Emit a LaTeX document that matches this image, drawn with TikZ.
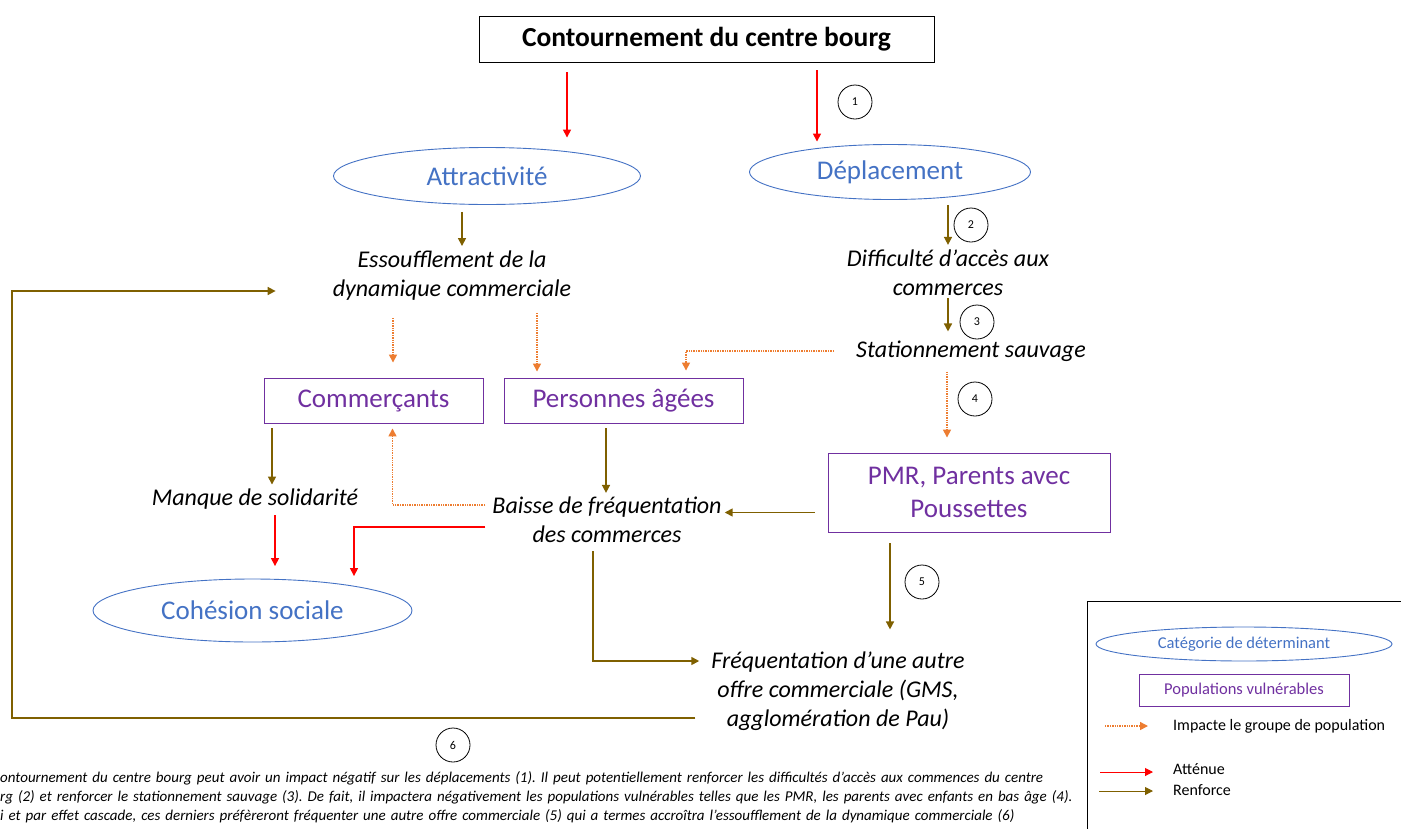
\documentclass[tikz,border=0pt]{standalone}
\usepackage{fontspec}
\setmainfont{Carlito}
\usetikzlibrary{arrows.meta, positioning, shapes.geometric}
\definecolor{detblue}{HTML}{4472C4}
\definecolor{popviolet}{HTML}{7030A0}
\definecolor{renfbrown}{HTML}{7F6000}
\definecolor{imporange}{HTML}{ED7D31}

\begin{document}
\begin{tikzpicture}[
			x=1pt, y=-1pt,
			>={Triangle[length=8pt, width=8pt]},
			titlebox/.style={rectangle, draw=black, line width=0.9pt, minimum width=455pt, minimum height=46pt, inner sep=0pt, font=\fontsize{27.5}{32}\selectfont\bfseries},
			determinant/.style={ellipse, draw=detblue, line width=0.9pt, inner sep=0pt, text=detblue, font=\fontsize{27}{32}\selectfont},
			population/.style={rectangle, draw=popviolet, line width=0.9pt, inner sep=0pt, text=popviolet, align=center, font=\fontsize{27}{33}\selectfont},
			effet/.style={inner sep=0pt, align=center, font=\fontsize{24}{29}\selectfont\itshape},
			numero/.style={circle, draw=black, line width=0.8pt, minimum size=34pt, inner sep=0pt, font=\fontsize{12}{14}\selectfont},
			legtext/.style={anchor=west, inner sep=0pt, font=\fontsize{16}{19}\selectfont},
			attenue/.style={->, red, line width=1.5pt},
			renforce/.style={->, renfbrown, line width=1.6pt},
			impacte/.style={->, imporange, line width=1.5pt, dash pattern=on 1.4pt off 1pt}
			]
			
			\useasboundingbox (0,0) rectangle (1401,828);
			\clip (0,0) rectangle (1401,828);
			
			% Top of the chain
			\node[titlebox] (titre) at (706.5,39) {Contournement du centre bourg};
			\node[determinant, minimum width=307pt, minimum height=57pt] (attract) at (487,176) {Attractivité};
			\node[determinant, minimum width=281pt, minimum height=55pt] (deplac) at (890,172) {Déplacement};
			
			% Effects
			\node[effet] (essouf) at (452,276) {Essoufflement de la\\dynamique commerciale};
			\node[effet] (difficulte) at (948,273) {Difficulté d’accès aux\\commerces};
			\node[effet] (stationnement) at (971,351) {Stationnement sauvage};
			
			% Vulnerable groups
			\node[population, minimum width=219pt, minimum height=45pt] (commercants) at (373.5,400.5) {Commerçants};
			\node[population, minimum width=239pt, minimum height=45pt] (agees) at (623.5,400.5) {Personnes âgées};
			\node[population, minimum width=282pt, minimum height=79pt] (pmr) at (969,492.5) {PMR, Parents avec\\Poussettes};
			
			% Lower layer
			\node[effet] (manque) at (255,499) {Manque de solidarité};
			\node[effet] (baisse) at (607,520) {Baisse de fréquentation\\des commerces};
			\node[determinant, minimum width=319pt, minimum height=63pt] (cohesion) at (252.5,610.5) {Cohésion sociale};
			\node[effet] (autre) at (838,691) {Fréquentation d’une autre\\offre commerciale (GMS,\\agglomération de Pau)};
			
			% Step numbers
			\node[numero] (n1) at (855,102) {1};
			\node[numero] (n2) at (971,225) {2};
			\node[numero] (n3) at (977,322) {3};
			\node[numero] (n4) at (975,399) {4};
			\node[numero] (n5) at (922,582) {5};
			\node[numero] (n6) at (453,745) {6};
			
			% From the bypass
			\draw[attenue, shorten <=10pt, shorten >=9.5pt] ([xshift=-139.5pt]titre.south) -- ([xshift=80pt]attract.north);
			\draw[attenue, shorten <=8pt, shorten >=2.5pt] ([xshift=110.5pt]titre.south) -- ([xshift=-73pt]deplac.north);
			
			% Categories to effects
			\draw[renforce, shorten <=7pt, shorten >=5pt] ([xshift=-25pt]attract.south) -- ([xshift=10pt]essouf.north);
			\draw[renforce, shorten <=5pt, shorten >=5pt] (deplac.south -| difficulte) -- (difficulte.north);
			\draw[renforce, shorten <=2pt, shorten >=9pt] (difficulte.south) -- (difficulte.south |- stationnement.north);
			
			% Impacts on groups
			\draw[impacte, shorten <=22pt, shorten >=7pt] (stationnement.west) -| ([xshift=62.5pt]agees.north);
			\draw[impacte, shorten <=17pt, shorten >=15pt] ([xshift=-59pt]essouf.south) -- ([xshift=19.5pt]commercants.north);
			\draw[impacte, shorten <=12pt, shorten >=6pt] ([xshift=85pt]essouf.south) -- ([xshift=-86.5pt]agees.north);
			\draw[impacte, shorten <=10pt, shorten >=15pt] ([xshift=-24pt]stationnement.south) -- ([xshift=-22pt]pmr.north);
			
			% Groups to lower layer
			\draw[renforce, shorten <=5pt, shorten >=4pt] ([xshift=-101.5pt]commercants.south) -- ([xshift=17pt]manque.north);
			\draw[renforce, shorten <=5pt, shorten >=4pt] ([xshift=-17.5pt]agees.south) -- ([xshift=-1pt]baisse.north);
			\draw[impacte, shorten <=7pt, shorten >=5pt] ([yshift=15pt]baisse.west) -| ([xshift=19pt]commercants.south);
			\draw[renforce, shorten <=13pt, shorten >=3pt] ([yshift=-20pt]pmr.west) -- ([yshift=-20pt]pmr.west -| baisse.east);
			
			% Towards social cohesion
			\draw[attenue, shorten <=6pt, shorten >=12.5pt] ([xshift=20pt]manque.south) -- ([xshift=22.5pt]cohesion.north);
			\draw[attenue, shorten <=7pt, shorten >=2.5pt] ([yshift=-7pt]baisse.west) -| ([xshift=101.5pt]cohesion.north);
			
			% Towards the other offer
			\draw[renforce, shorten <=8pt, shorten >=12pt] ([xshift=-14pt]baisse.south) |- ([yshift=30pt]autre.west);
			\draw[renforce, shorten <=11pt, shorten >=22pt] ([xshift=-79pt]pmr.south) -- ([xshift=52pt]autre.north);
			
			% Feedback loop (6)
			\coordinate (retour) at (12,718);
			\draw[renforce, shorten <=16pt, shorten >=57pt] ([yshift=-27pt]autre.west) -- (retour) |- ([yshift=-15pt]essouf.west);
			
			% Caption
			\node[anchor=north west, inner sep=0pt, text width=1070pt, font=\fontsize{15}{19}\selectfont\itshape\frenchspacing] (resume) at (0,771) {\hbox to 1064pt{ontournement du centre bourg peut avoir un impact négatif sur les déplacements (1). Il peut potentiellement renforcer les difficultés d’accès aux commences du centre}\par\hbox to 1066pt{rg (2) et renforcer le stationnement sauvage (3). De fait, il impactera négativement les populations vulnérables telles que les PMR, les parents avec enfants en bas âge (4).}\par\hbox{i et par effet cascade, ces derniers préfèreront fréquenter une autre offre commerciale (5) qui a termes accroîtra l’essoufflement de la dynamique commerciale (6)}};
			
			% Legend
			\node[rectangle, draw=black, line width=0.9pt, minimum width=340pt, minimum height=250pt, anchor=north west] (legende) at (1087,601) {};
			\node[determinant, minimum width=296pt, minimum height=34pt, font=\fontsize{16.5}{20}\selectfont] (lgdet) at (1244,644) {Catégorie de déterminant};
			\node[population, minimum width=210pt, minimum height=32pt, font=\fontsize{16.5}{20}\selectfont] (lgpop) at (1244,690) {Populations vulnérables};
			\node[legtext] (lgimp) at (1173,726) {Impacte le groupe de population};
			\node[legtext] (lgatt) at (1173,769) {Atténue};
			\node[legtext] (lgren) at (1173,790) {Renforce};
			\draw[impacte] ([xshift=-68pt]lgimp.west) -- ([xshift=-25pt]lgimp.west);
			\draw[attenue, line width=1pt] ([xshift=-73pt, yshift=-3pt]lgatt.west) -- ([xshift=-20pt, yshift=-3pt]lgatt.west);
			\draw[renforce, line width=1pt] ([xshift=-74pt, yshift=-1pt]lgren.west) -- ([xshift=-20pt, yshift=-1pt]lgren.west);
			
		\end{tikzpicture}
\end{document}
